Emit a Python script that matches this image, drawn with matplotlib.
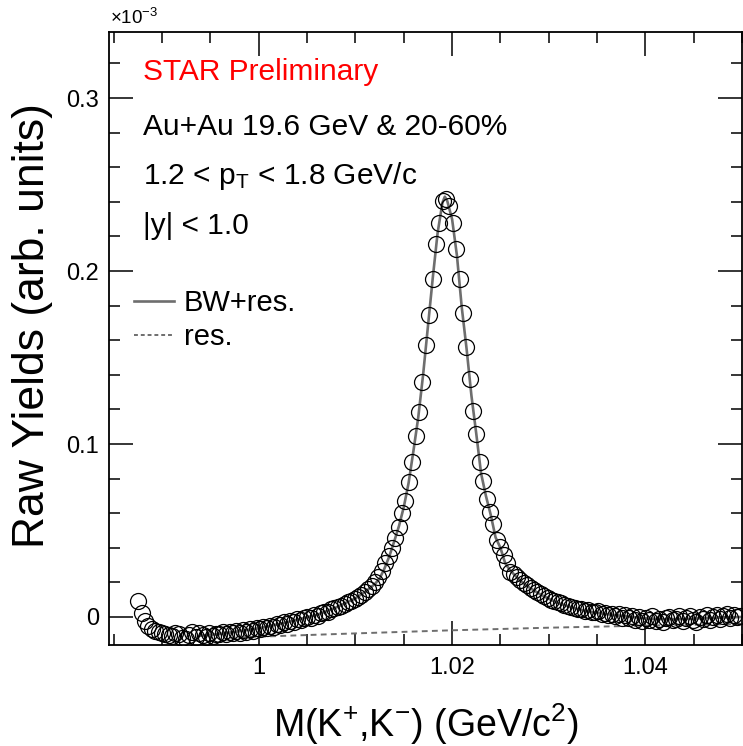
import numpy as np
import matplotlib as mpl
mpl.use('Agg')
import matplotlib.pyplot as plt
from matplotlib.ticker import MultipleLocator

plt.rcParams['font.family'] = ['Liberation Sans', 'DejaVu Sans']
plt.rcParams['mathtext.fontset'] = 'custom'
plt.rcParams['mathtext.rm'] = 'Liberation Sans'
plt.rcParams['mathtext.it'] = 'Liberation Sans:italic'
plt.rcParams['mathtext.bf'] = 'Liberation Sans:bold'

# K+K- invariant mass histogram: 200 bins from 0.98 to 1.05 GeV/c^2,
# filled bins start above the 2*m_K threshold (bin 21)
hist_lo = 0.98
bin_w = 0.00035
first_bin = 21

# raw yields per bin (x1e-3)
yields = [
    0.0094, 0.0023, -0.0025, -0.0052, -0.0068, -0.0080, -0.0088, -0.0094, -0.0097, -0.0104,
    -0.0110, -0.0092, -0.0101, -0.0122, -0.0125, -0.0106, -0.0089, -0.0113, -0.0095, -0.0103,
    -0.0118, -0.0090, -0.0108, -0.0096, -0.0100, -0.0087, -0.0099, -0.0084, -0.0095, -0.0080,
    -0.0092, -0.0078, -0.0086, -0.0070, -0.0081, -0.0064, -0.0072, -0.0058, -0.0066, -0.0050,
    -0.0057, -0.0040, -0.0049, -0.0030, -0.0038, -0.0022, -0.0031, -0.0012, -0.0020, -0.0005,
    0.0002, -0.0006, 0.0012, 0.0008, 0.0024, 0.0030, 0.0026, 0.0045, 0.0052, 0.0058,
    0.0066, 0.0075, 0.0084, 0.0094, 0.0104, 0.0115, 0.0128, 0.0142, 0.0160, 0.0180,
    0.0205, 0.0232, 0.0268, 0.0312, 0.0353, 0.0397, 0.0458, 0.0522, 0.0599, 0.0671,
    0.0782, 0.0898, 0.1046, 0.1187, 0.1360, 0.1572, 0.1746, 0.1954, 0.2156, 0.2279,
    0.2405, 0.2416, 0.2376, 0.2279, 0.2127, 0.1954, 0.1755, 0.1559, 0.1376, 0.1192,
    0.1058, 0.0898, 0.0788, 0.0680, 0.0609, 0.0536, 0.0445, 0.0406, 0.0358, 0.0312,
    0.0262, 0.0246, 0.0230, 0.0212, 0.0198, 0.0184, 0.0168, 0.0155, 0.0142, 0.0133,
    0.0120, 0.0112, 0.0100, 0.0094, 0.0084, 0.0078, 0.0070, 0.0066, 0.0058, 0.0054,
    0.0046, 0.0044, 0.0036, 0.0040, 0.0030, 0.0026, 0.0032, 0.0018, 0.0024, 0.0012,
    0.0020, 0.0006, 0.0016, -0.0004, 0.0010, -0.0008, 0.0004, -0.0016, 0.0000, -0.0022,
    -0.0006, -0.0018, 0.0004, -0.0026, -0.0010, -0.0030, -0.0008, 0.0002, -0.0020, -0.0012,
    0.0006, -0.0024, -0.0004, 0.0008, -0.0016, -0.0028, 0.0000, -0.0010, 0.0010, -0.0020,
    -0.0002, 0.0012, -0.0014, 0.0004, 0.0016, -0.0006, 0.0010, 0.0002, 0.0008,
]

# Breit-Wigner + residual fit
fit_mass = [0.9940, 0.9960, 0.9980, 1.0000, 1.0020, 1.0040, 1.0060, 1.0080, 1.0100, 1.0110,
            1.0120, 1.0125, 1.0130, 1.0135, 1.0140, 1.0145, 1.0150, 1.0155, 1.0160, 1.0165,
            1.0170, 1.0175, 1.0180, 1.0185, 1.0190, 1.01925, 1.0195, 1.0200, 1.0205, 1.0210,
            1.0215, 1.0220, 1.0225, 1.0230, 1.0235, 1.0240, 1.0245, 1.0250, 1.0255, 1.0260,
            1.0270, 1.0280, 1.0290, 1.0300, 1.0310, 1.0320, 1.0330, 1.0340, 1.0360, 1.0380,
            1.0400, 1.0420, 1.0440, 1.0460, 1.0480, 1.0500]
fit_vals = [-0.0108, -0.0098, -0.0082, -0.0065, -0.0042, -0.0016, 0.0012, 0.0055, 0.0108, 0.0145,
            0.0190, 0.0222, 0.0280, 0.0350, 0.0435, 0.0525, 0.0635, 0.0775, 0.0960, 0.1155,
            0.1400, 0.1680, 0.1960, 0.2220, 0.2395, 0.2430, 0.2405, 0.2300, 0.2090, 0.1790,
            0.1550, 0.1280, 0.1060, 0.0830, 0.0700, 0.0590, 0.0460, 0.0400, 0.0310, 0.0270,
            0.0212, 0.0170, 0.0135, 0.0105, 0.0080, 0.0062, 0.0045, 0.0032, 0.0016, 0.0004,
            -0.0008, -0.0013, -0.0012, -0.0007, -0.0003, 0.0000]

# residual background component
res_mass = [0.997, 1.000, 1.010, 1.020, 1.030, 1.040, 1.050]
res_vals = [-0.0120, -0.0114, -0.0095, -0.0077, -0.0062, -0.0050, -0.0040]

mass = hist_lo + bin_w * (np.arange(first_bin, first_bin + len(yields)) + 0.5)

fig = plt.figure(figsize=(7.43, 7.46), dpi=100)
ax = fig.add_axes([0.1467, 0.1354, 0.852, 0.8217])

ax.plot(fit_mass, fit_vals, color='#6e6e6e', lw=1.9, zorder=2)
ax.plot(res_mass, res_vals, color='#6e6e6e', lw=1.4, ls=(0, (3, 2.2)), zorder=2)
ax.plot(mass, yields, ls='none', marker='o', ms=11.5, mfc='none', mec='black',
        mew=0.9, zorder=3)

ax.set_xlim(0.9845, 1.05)
ax.set_ylim(-0.0162, 0.3382)

ax.xaxis.set_major_locator(MultipleLocator(0.02))
ax.xaxis.set_minor_locator(MultipleLocator(0.005))
ax.yaxis.set_major_locator(MultipleLocator(0.1))
ax.yaxis.set_minor_locator(MultipleLocator(0.02))
ax.set_xticks([1.0, 1.02, 1.04])
ax.set_xticklabels(['1', '1.02', '1.04'])
ax.set_yticks([0.0, 0.1, 0.2, 0.3])
ax.set_yticklabels(['0', '0.1', '0.2', '0.3'])
ax.tick_params(which='both', direction='in', top=True, right=True, labelsize=17, width=1.1)
ax.tick_params(which='major', length=17)
ax.tick_params(axis='x', which='major', pad=9)
ax.tick_params(axis='y', which='major', pad=7)
ax.tick_params(which='minor', length=8)
for s in ax.spines.values():
    s.set_linewidth(1.3)

ax.set_xlabel('M(K$^{+}$,K$^{-}$) (GeV/c$^{2}$)', fontsize=27, labelpad=16)
fig.text(33/743, 1 - 326/746, 'Raw Yields (arb. units)', fontsize=32, rotation=90,
         ha='center', va='center')

fig.text(110/743, 1 - 18/746, r'$\times$10$^{-3}$', fontsize=13.5, va='center', ha='left')

txt = dict(fontsize=21.5, transform=ax.transAxes, va='center')
ax.text(0.054, 0.935, 'STAR Preliminary', color='red', **txt)
ax.text(0.054, 0.845, 'Au+Au 19.6 GeV & 20-60%', **txt)
ax.text(0.054, 0.765, '1.2 < p$_{\\mathrm{T}}$ < 1.8 GeV/c', **txt)
ax.text(0.054, 0.683, '|y| < 1.0', **txt)

ax.plot([], [], color='#6e6e6e', lw=1.9, label='BW+res.')
ax.plot([], [], color='#6e6e6e', lw=1.4, ls=(0, (2, 1.5)), label='res.')
h, l = ax.get_legend_handles_labels()
ax.legend(h[-2:], l[-2:], loc='upper left', bbox_to_anchor=(0.008, 0.614), frameon=False,
          fontsize=21, handlelength=1.35, handletextpad=0.35, labelspacing=0.2,
          borderaxespad=0.3)

fig.savefig('out.png', dpi=100)
